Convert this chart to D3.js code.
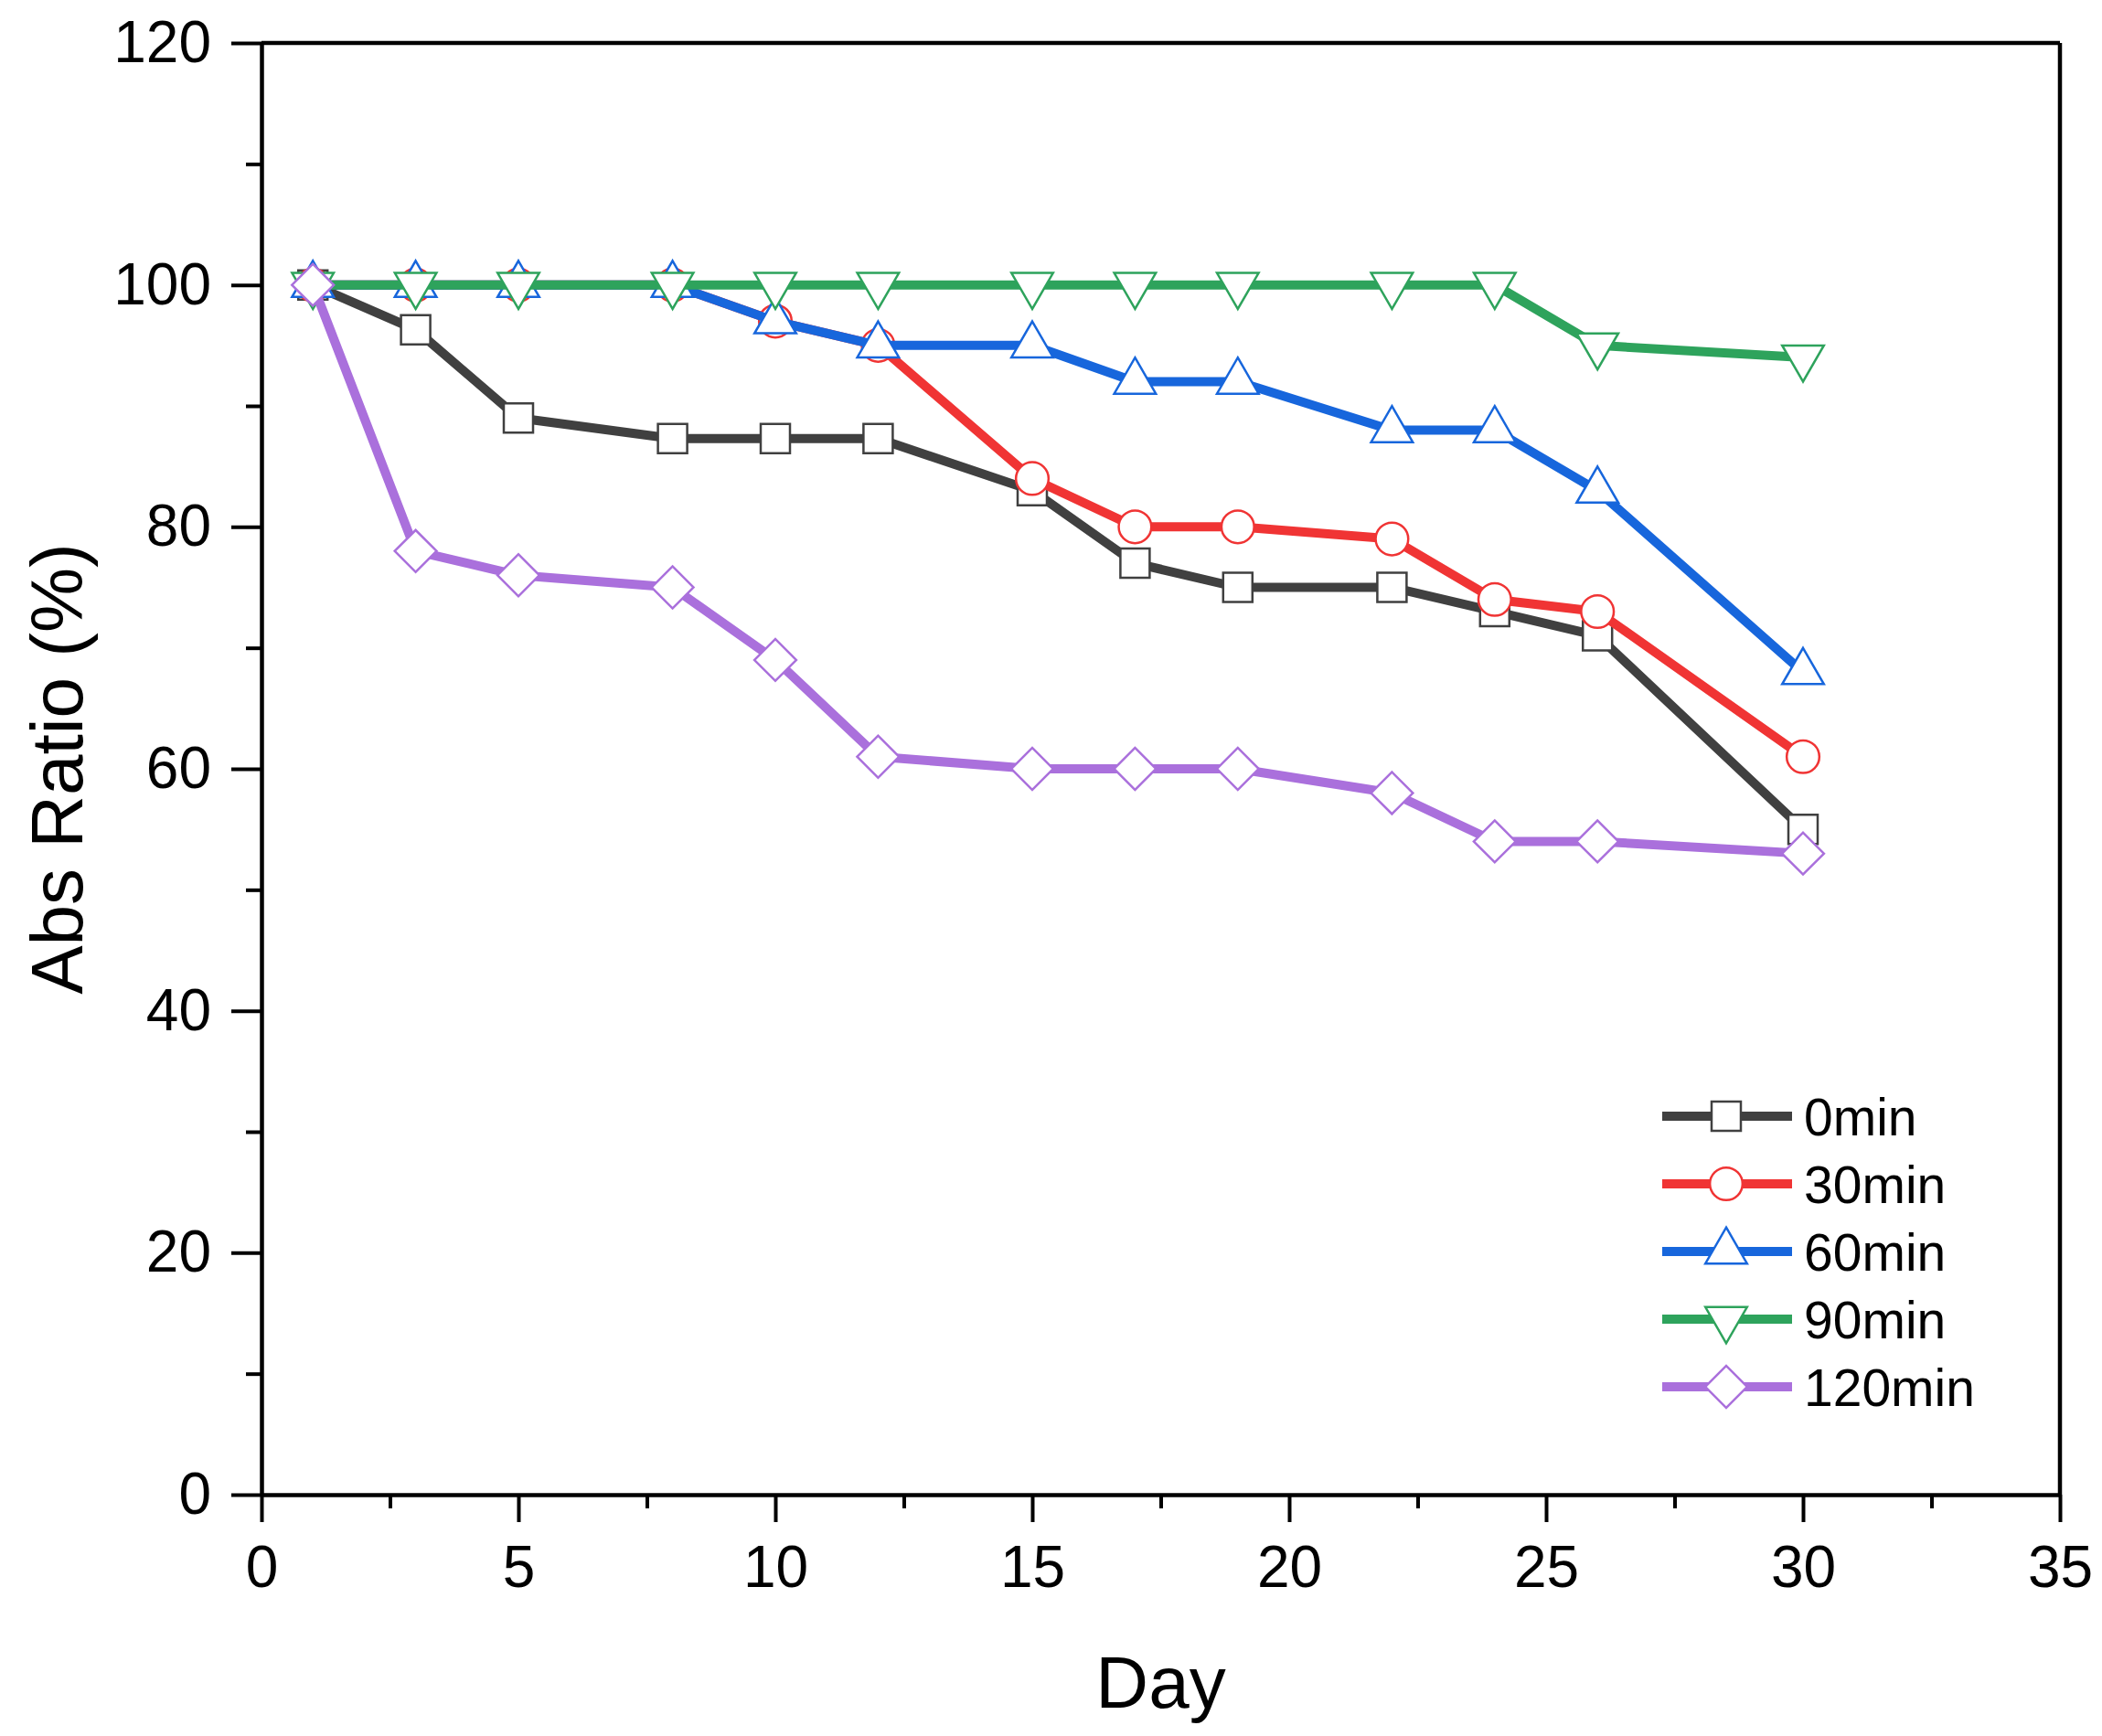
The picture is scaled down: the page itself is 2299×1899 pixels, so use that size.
<!DOCTYPE html>
<html>
<head>
<meta charset="utf-8">
<script src="https://cdn.jsdelivr.net/npm/d3@7"></script>
<style>
  body { margin: 0; background: #fff; }
  text { font-family: "Liberation Sans", Arial, sans-serif; fill: #000; }
</style>
</head>
<body>
<script>
const days = [1, 3, 5, 8, 10, 12, 15, 17, 19, 22, 24, 26, 30];
const seriesNames = ["0min", "30min", "60min", "90min", "120min"];
const v0 = [100, 96.3, 89, 87.3, 87.3, 87.3, 83, 77, 75, 75, 73, 71, 55];
const v30 = [100, 100, 100, 100, 97, 95, 84, 80, 80, 79, 74, 73, 61];
const v60 = [100, 100, 100, 100, 97, 95, 95, 92, 92, 88, 88, 83, 68];
const v90 = [100, 100, 100, 100, 100, 100, 100, 100, 100, 100, 100, 95, 94];
const v120 = [100, 78, 76, 75, 69, 61, 60, 60, 60, 58, 54, 54, 53];
const xTicks = [0, 5, 10, 15, 20, 25, 30, 35];
const yTicks = [0, 20, 40, 60, 80, 100, 120];

const colors = ["#404040", "#f03434", "#1766dc", "#2ea35c", "#aa70dc"];
const shapes = ["square", "circle", "up", "down", "diamond"];
const values = [v0, v30, v60, v90, v120];

const W = 2299, H = 1899;
const m = { left: 286, right: 2253, top: 47, bottom: 1635 };

const svg = d3.select("body").append("svg")
    .attr("width", W)
    .attr("height", H);

const x = d3.scaleLinear().domain([0, 35]).range([m.left, m.right]);
const y = d3.scaleLinear().domain([0, 120]).range([m.bottom, m.top]);

// frame top + right
svg.append("line")
    .attr("x1", m.left).attr("x2", m.right)
    .attr("y1", m.top).attr("y2", m.top)
    .attr("stroke", "#000").attr("stroke-width", 4.5);
svg.append("line")
    .attr("x1", m.right).attr("x2", m.right)
    .attr("y1", m.top).attr("y2", m.bottom)
    .attr("stroke", "#000").attr("stroke-width", 4.5);

// minor ticks
svg.append("g")
    .attr("transform", `translate(0,${m.bottom})`)
    .call(d3.axisBottom(x).tickValues(d3.range(2.5, 35, 5)).tickSize(15).tickFormat("").tickSizeOuter(0))
    .call(g => g.select(".domain").remove())
    .selectAll("line").attr("stroke-width", 4);
svg.append("g")
    .attr("transform", `translate(${m.left},0)`)
    .call(d3.axisLeft(y).tickValues(d3.range(10, 120, 20)).tickSize(17).tickFormat("").tickSizeOuter(0))
    .call(g => g.select(".domain").remove())
    .selectAll("line").attr("stroke-width", 4);

// major axes
const xAxis = svg.append("g")
    .attr("transform", `translate(0,${m.bottom})`)
    .call(d3.axisBottom(x).tickValues(xTicks).tickSize(30).tickPadding(26).tickSizeOuter(0));
const yAxis = svg.append("g")
    .attr("transform", `translate(${m.left},0)`)
    .call(d3.axisLeft(y).tickValues(yTicks).tickSize(33).tickPadding(22).tickSizeOuter(0));

[xAxis, yAxis].forEach(g => {
    g.select(".domain").attr("stroke-width", 4.5);
    g.selectAll(".tick line").attr("stroke-width", 4);
    g.selectAll(".tick text").style("font-size", "64px").attr("fill", "#000");
});

// axis titles
svg.append("text")
    .attr("x", (m.left + m.right) / 2)
    .attr("y", 1868)
    .attr("text-anchor", "middle")
    .style("font-size", "80px")
    .text("Day");
svg.append("text")
    .attr("transform", `translate(90,${(m.top + m.bottom) / 2}) rotate(-90)`)
    .attr("text-anchor", "middle")
    .style("font-size", "80px")
    .text("Abs Ratio (%)");

function symbolPath(shape) {
    if (shape === "square") return d3.symbol(d3.symbolSquare, 1024)();
    if (shape === "circle") return d3.symbol(d3.symbolCircle, 1000)();
    if (shape === "diamond") return d3.symbol(d3.symbolSquare, 1050)();
    return d3.symbol(d3.symbolTriangle, 900)();
}
function symbolRotate(shape) {
    if (shape === "down") return 180;
    if (shape === "diamond") return 45;
    return 0;
}

const line = d3.line()
    .x((d, i) => x(days[i]))
    .y(d => y(d));

values.forEach((vals, s) => {
    const g = svg.append("g");
    g.append("path")
        .datum(vals)
        .attr("d", line)
        .attr("fill", "none")
        .attr("stroke", colors[s])
        .attr("stroke-width", 10)
        .attr("stroke-linejoin", "round");
    g.selectAll("path.mk")
        .data(vals)
        .join("path")
        .attr("class", "mk")
        .attr("d", symbolPath(shapes[s]))
        .attr("transform", (d, i) => `translate(${x(days[i])},${y(d)}) rotate(${symbolRotate(shapes[s])})`)
        .attr("fill", "#fff")
        .attr("stroke", colors[s])
        .attr("stroke-width", 2.5);
});

// legend
const leg = svg.append("g");
seriesNames.forEach((name, s) => {
    const ly = 1221 + s * 74;
    leg.append("line")
        .attr("x1", 1818).attr("x2", 1960)
        .attr("y1", ly).attr("y2", ly)
        .attr("stroke", colors[s])
        .attr("stroke-width", 10);
    leg.append("path")
        .attr("d", symbolPath(shapes[s]))
        .attr("transform", `translate(1888,${ly}) rotate(${symbolRotate(shapes[s])})`)
        .attr("fill", "#fff")
        .attr("stroke", colors[s])
        .attr("stroke-width", 2.5);
    leg.append("text")
        .attr("x", 1973)
        .attr("y", ly)
        .attr("dy", "0.36em")
        .style("font-size", "57px")
        .text(name);
});
</script>
</body>
</html>
